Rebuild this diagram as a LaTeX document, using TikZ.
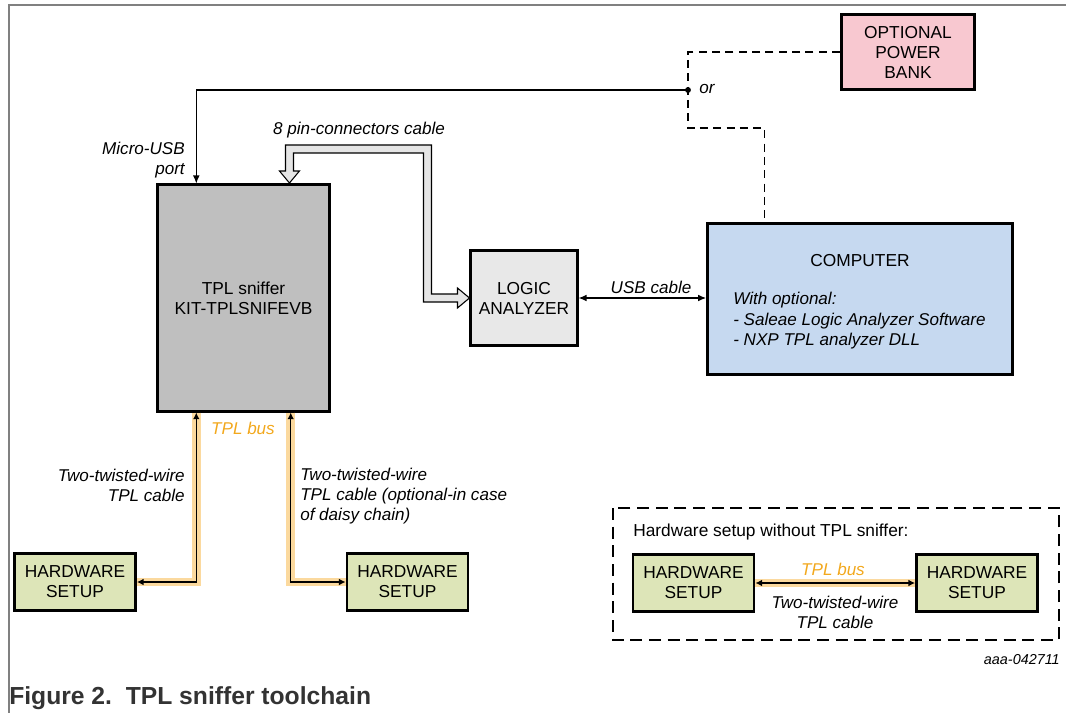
\documentclass[tikz,border=0pt]{standalone}
\usepackage{fontspec}
\setmainfont{Liberation Sans}
\usetikzlibrary{arrows.meta,calc}
\definecolor{snifgray}{HTML}{BFBFBF}
\definecolor{logicgray}{HTML}{E8E8E8}
\definecolor{compblue}{HTML}{C6D9F0}
\definecolor{bankpink}{HTML}{F8C8D0}
\definecolor{hwgreen}{HTML}{DDE5B8}
\definecolor{tplorange}{HTML}{F2A81D}
\definecolor{tplband}{HTML}{FBD99E}
\definecolor{capgray}{HTML}{333333}
\begin{document}
\begin{tikzpicture}[x=0.75pt,y=-0.75pt,
  box/.style={draw=black,line width=1.8pt,align=center,inner sep=0pt,
    font=\fontsize{13}{15}\selectfont},
  hwbox/.style={box,fill=hwgreen,minimum width=91pt,minimum height=43pt},
  lbl/.style={inner sep=0pt,font=\fontsize{12.8}{15}\selectfont\itshape},
  band/.style={line width=6.5pt,draw=tplband},
  wire/.style={line width=1pt,{Latex[length=5pt,width=5pt]}-{Latex[length=5pt,width=5pt]}},
  power/.style={line width=0.9pt,dash pattern=on 6pt off 4pt}]

    \useasboundingbox (0,0) rectangle (1066,713);
    \draw[gray,line width=1.1pt] (1066,5) -- (9,5) -- (9,713);

    % boxes
    \node[box,fill=snifgray,minimum width=129pt,minimum height=170pt]
      (sniffer) at (243.5,298) {TPL sniffer\\KIT-TPLSNIFEVB};
    \node[box,fill=logicgray,minimum width=80pt,minimum height=71pt]
      (logic) at (524,298) {LOGIC\\ANALYZER};
    \node[box,fill=compblue,minimum width=229pt,minimum height=113pt]
      (computer) at (860,299) {};
    \node[box,fill=bankpink,minimum width=100pt,minimum height=56pt]
      (bank) at (908,52) {OPTIONAL\\POWER\\BANK};
    \node[hwbox] (hw1) at (75,582) {HARDWARE\\SETUP};
    \node[hwbox] (hw2) at (407.5,582) {HARDWARE\\SETUP};

    \node[inner sep=0pt,font=\fontsize{13}{15}\selectfont]
      (comptitle) at (860,261) {COMPUTER};
    \node[lbl,anchor=west,align=left,font=\fontsize{12.8}{15.4}\selectfont\itshape]
      (compnote) at (733,321) {With optional:\\- Saleae Logic Analyzer Software\\- NXP TPL analyzer DLL};

    % power
    \coordinate (split) at (688,90);
    \coordinate (bend) at (688,128);
    \draw[power] (bank.west) -| (bend) -| ([xshift=43.5pt]computer.north west);
    \draw[line width=0.8pt,-{Latex[length=6pt,width=5pt]}]
      (split) -| ([xshift=30pt]sniffer.north west);
    \fill (split) circle (2.2pt);
    \node[lbl,anchor=west] (or) at (699,89) {or};
    \node[lbl,anchor=east,align=right] (usblbl) at (185,160) {Micro-USB\\port};

    % 8 pin cable
    \draw[line width=0.8pt,fill=black!10] (logic.west) -- ++(-12,-10) -- ++(0,6)
      -- ++(-26,0) -- ++(0,-149) -- ++(-146,0) -- ++(0,26) -- ++(-6,0)
      -- ++(10,12) -- ++(10,-12) -- ++(-6,0) -- ++(0,-18) -- ++(130,0)
      -- ++(0,149) -- ++(34,0) -- ++(0,6) -- cycle;
    \node[lbl] (pinlbl) at (359,130) {8 pin-connectors cable};

    % usb cable
    \draw[line width=0.9pt,{Latex[length=6pt,width=5pt]}-{Latex[length=6pt,width=5pt]}]
      (logic.east) -- (logic.east -| computer.west);
    \node[lbl] (cablelbl) at (651,287) {USB cable};

    % TPL bus
    \draw[band] ([xshift=30pt]sniffer.south west) |- (hw1.east);
    \draw[wire] ([xshift=30pt]sniffer.south west) |- (hw1.east);
    \draw[band] ([xshift=-30pt]sniffer.south east) |- (hw2.west);
    \draw[wire] ([xshift=-30pt]sniffer.south east) |- (hw2.west);
    \node[lbl,text=tplorange] (buslbl) at (243,428) {TPL bus};
    \node[lbl,anchor=east,align=right] (leftlbl) at (185,485) {Two-twisted-wire\\TPL cable};
    \node[lbl,anchor=west,align=left] (rightlbl) at (300,496)
      {Two-twisted-wire\\TPL cable (optional-in case\\of daisy chain)};

    % without sniffer
    \draw[line width=1.6pt,dash pattern=on 9pt off 5pt] (613,508) rectangle (1059,640);
    \node[inner sep=0pt,anchor=west,font=\fontsize{13}{15}\selectfont]
      (boxtitle) at (633,532) {Hardware setup without TPL sniffer:};
    \node[hwbox] (hw3) at (693.5,583) {HARDWARE\\SETUP};
    \node[hwbox] (hw4) at (977,583) {HARDWARE\\SETUP};
    \draw[band] (hw3.east) -- (hw4.west);
    \draw[wire] (hw3.east) -- (hw4.west);
    \node[lbl,text=tplorange] (buslbl2) at (833,569) {TPL bus};
    \node[lbl,align=center] (cablelbl2) at (835,612) {Two-twisted-wire\\TPL cable};

    \node[lbl,anchor=east,font=\fontsize{10.8}{12}\selectfont\itshape] (ref) at (1060,660) {aaa-042711};
    \node[inner sep=0pt,anchor=west,text=capgray,font=\fontsize{18.5}{22}\selectfont\bfseries]
      (caption) at (9,698) {Figure 2.\ \ TPL sniffer toolchain};

\end{tikzpicture}
\end{document}
